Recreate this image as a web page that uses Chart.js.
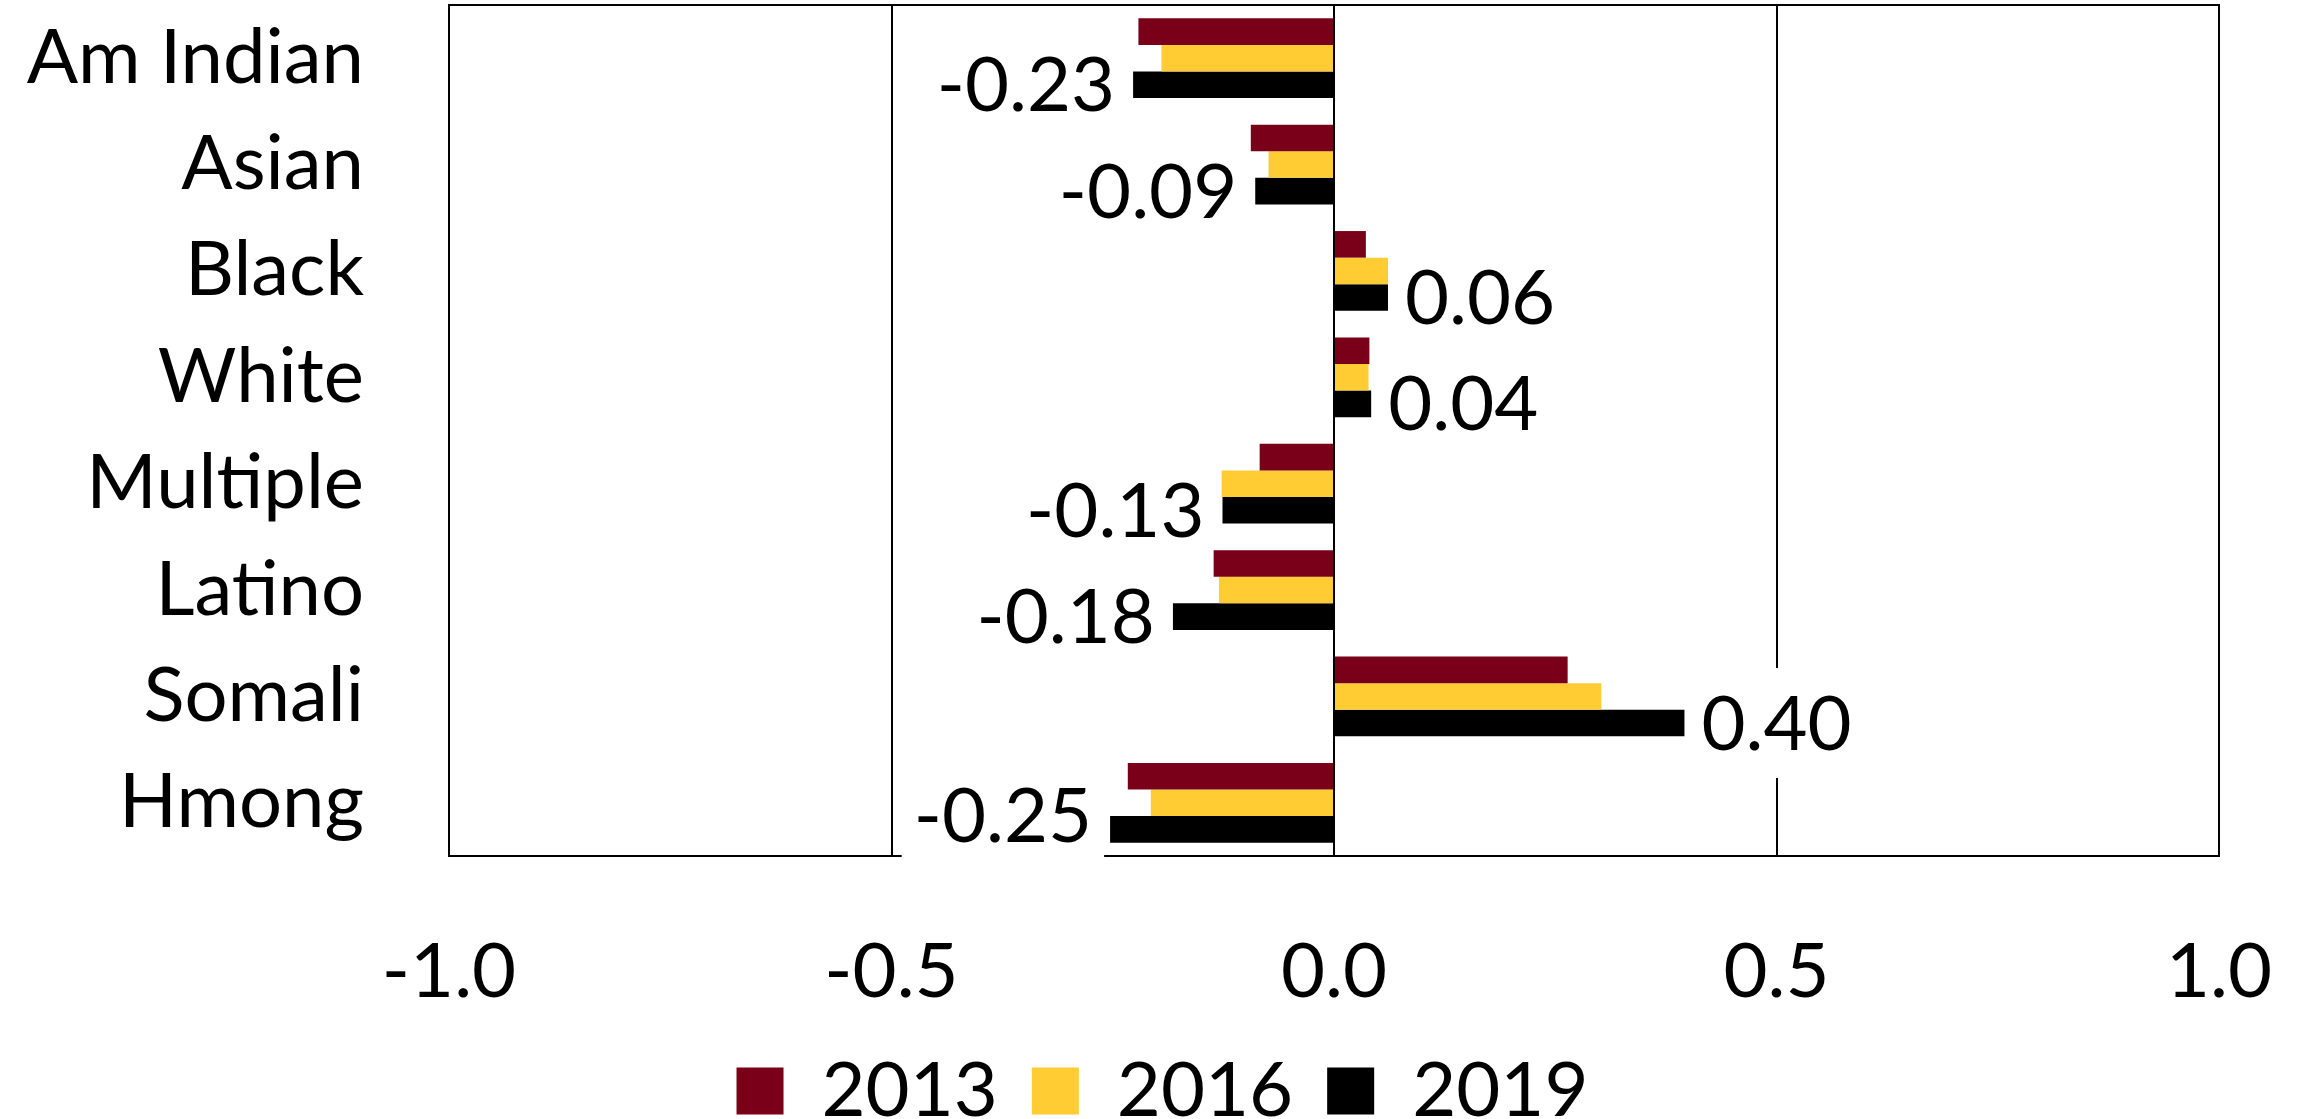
<!DOCTYPE html>
<html><head><meta charset="utf-8">
<script src="https://cdn.jsdelivr.net/npm/chart.js@4"></script>
<style>html,body{margin:0;padding:0;background:#fff}#wrap{width:2303px;height:1119px;position:relative}</style>
</head><body><div id="wrap"><canvas id="c"></canvas></div>
<script>
const categories = ['Am Indian','Asian','Black','White','Multiple','Latino','Somali','Hmong'];
const seriesNames = ['2013','2016','2019'];
const values2013 = [-0.221,-0.094,0.036,0.040,-0.084,-0.136,0.264,-0.233];
const values2016 = [-0.195,-0.074,0.061,0.039,-0.127,-0.130,0.302,-0.207];
const values2019 = [-0.227,-0.089,0.061,0.042,-0.126,-0.182,0.396,-0.253];
const xTickValues = [-1.0,-0.5,0.0,0.5,1.0];
const seriesColors = ['#7A0019','#FFCC33','#000000'];

const FONT_FAMILY = 'Lato';
const FONT_SIZE = 76;
const FONT_STR = FONT_SIZE + 'px ' + FONT_FAMILY;
const LEGEND_SHIFT = 53;

const valueLabels = {
  id: 'valueLabels',
  items(chart){
    const meta = chart.getDatasetMeta(2);
    const ctx = chart.ctx;
    ctx.save(); ctx.font = FONT_STR;
    const res = meta.data.map((el,i)=>{
      const v = values2019[i];
      const txt = v.toFixed(2);
      const tw = ctx.measureText(txt).width;
      const neg = v < 0;
      let cy = el.y;
      const maxCy = chart.chartArea.bottom - 41;
      if (cy > maxCy) cy = maxCy;
      const tx = neg ? el.x - 18 : el.x + 17;
      return {txt, tw, neg, tx, cy};
    });
    ctx.restore();
    return res;
  },
  afterLayout(chart){
    if (chart.legend) { chart.legend.left += LEGEND_SHIFT; chart.legend.right += LEGEND_SHIFT; }
  },
  beforeDatasetsDraw(chart){
    const {ctx, chartArea:a} = chart;
    ctx.save();
    ctx.strokeStyle = '#000'; ctx.lineWidth = 2;
    ctx.strokeRect(a.left, a.top, a.right-a.left, a.bottom-a.top);
    ctx.fillStyle = '#fff';
    for (const it of this.items(chart)) {
      const x0 = it.neg ? it.tx - it.tw - 12 : it.tx - 12;
      ctx.fillRect(x0, it.cy - 55, it.tw + 24, 110);
    }
    ctx.restore();
  },
  afterDatasetsDraw(chart){
    const ctx = chart.ctx;
    ctx.save();
    ctx.font = FONT_STR; ctx.fillStyle = '#000'; ctx.textBaseline = 'middle';
    for (const it of this.items(chart)) {
      ctx.textAlign = it.neg ? 'right' : 'left';
      ctx.fillText(it.txt, it.tx, it.cy + 2);
    }
    ctx.restore();
  }
};

function zeroPad(s){ s.paddingTop = 0; s.paddingBottom = 0; s.paddingLeft = 0; s.paddingRight = 0; }

new Chart(document.getElementById('c'), {
  type: 'bar',
  data: {
    labels: categories,
    datasets: [
      {label: seriesNames[0], data: values2013, backgroundColor: seriesColors[0]},
      {label: seriesNames[1], data: values2016, backgroundColor: seriesColors[1]},
      {label: seriesNames[2], data: values2019, backgroundColor: seriesColors[2]}
    ]
  },
  options: {
    indexAxis: 'y',
    responsive: true,
    maintainAspectRatio: false,
    devicePixelRatio: 1,
    animation: false,
    datasets: {bar: {categoryPercentage: 0.75, barPercentage: 1.0, borderWidth: 0}},
    layout: {padding: {top: 5, left: 0, right: 84, bottom: 0}},
    scales: {
      x: {
        type: 'linear', min: -1, max: 1,
        afterBuildTicks: s => { s.ticks = xTickValues.map(v => ({value: v})); },
        afterFit: s => { s.height = 163; zeroPad(s); },
        grid: {display: true, color: '#000', lineWidth: 2, drawTicks: false},
        border: {display: false},
        ticks: {padding: 71, color: '#000', font: {family: FONT_FAMILY, size: FONT_SIZE},
                callback: v => Number(v).toFixed(1), maxRotation: 0}
      },
      y: {
        type: 'category',
        afterFit: s => { s.width = 449; zeroPad(s); },
        grid: {display: false, drawTicks: false},
        border: {display: false},
        ticks: {padding: 85, autoSkip: false, color: '#000', font: {family: FONT_FAMILY, size: FONT_SIZE}}
      }
    },
    plugins: {
      legend: {
        position: 'bottom',
        maxHeight: 100,
        labels: {boxWidth: 47, boxHeight: 47, padding: 34, color: '#000',
                 font: {family: FONT_FAMILY, size: FONT_SIZE}}
      },
      tooltip: {enabled: false}
    }
  },
  plugins: [valueLabels]
});
</script>
</body></html>
